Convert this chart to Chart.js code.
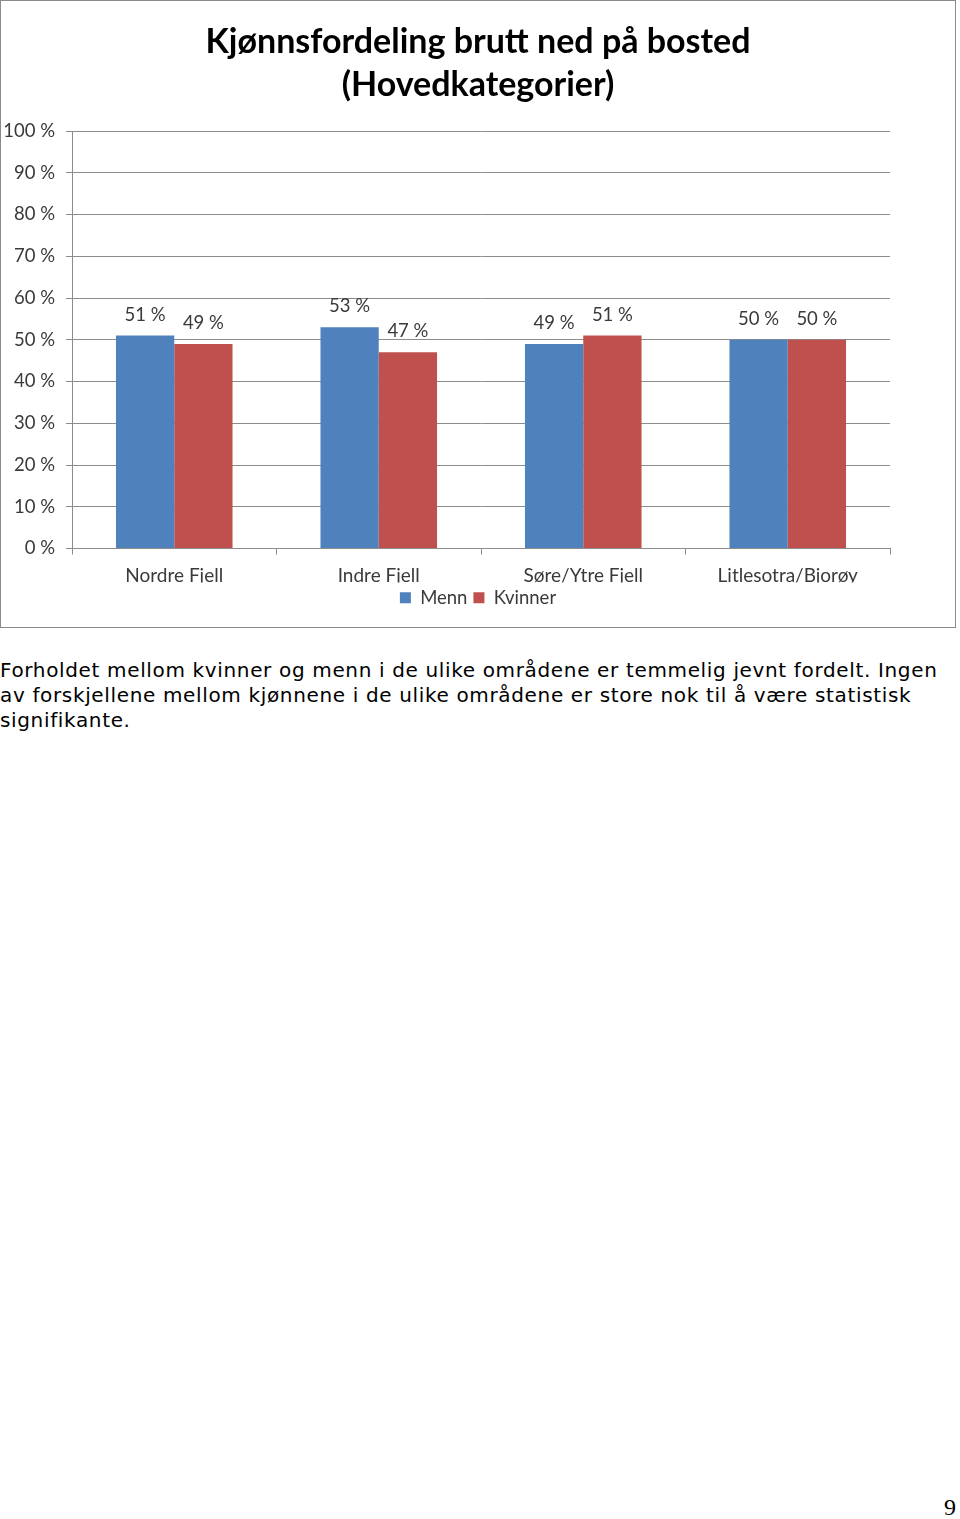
<!DOCTYPE html>
<html>
<head>
<meta charset="utf-8">
<script src="https://cdn.jsdelivr.net/npm/chart.js@4/dist/chart.umd.min.js"></script>
<style>
  body { margin: 0; background: #fff; }
  #box { position: absolute; left: 0; top: 0; width: 956px; height: 628px; box-sizing: border-box; border: 1px solid #8a8a8a; }
  #text { position: absolute; left: 0; top: 658px; font-family: "DejaVu Sans", Verdana, sans-serif; font-size: 20px; letter-spacing: 0.65px; line-height: 25px; color: #000; white-space: nowrap; }
  #page { position: absolute; left: 944px; top: 1494px; font-family: "Liberation Serif", serif; font-size: 24px; }
</style>
</head>
<body>
<div id="box"><canvas id="myChart" width="954" height="626"></canvas></div>
<div id="text">Forholdet mellom kvinner og menn i de ulike områdene er temmelig jevnt fordelt. Ingen<br>av forskjellene mellom kjønnene i de ulike områdene er store nok til å være statistisk<br>signifikante.</div>
<div id="page">9</div>
<script>
let places = ["Nordre Fjell", "Indre Fjell", "Søre/Ytre Fjell", "Litlesotra/Bjorøy"];
let menn = [51, 53, 49, 50];
let kvinner = [49, 47, 51, 50];
let yTicks = [0, 10, 20, 30, 40, 50, 60, 70, 80, 90, 100];

let gridColor = "#8c8c8c";
let textColor = "#3a3a3a";

// labels over each bar
const barLabels = {
  id: "barLabels",
  afterDatasetsDraw(chart) {
    const ctx = chart.ctx;
    ctx.save();
    ctx.font = "18.5px Lato";
    ctx.fillStyle = textColor;
    ctx.textAlign = "center";
    ctx.textBaseline = "middle";
    chart.data.datasets.forEach((ds, i) => {
      chart.getDatasetMeta(i).data.forEach((bar, j) => {
        ctx.fillText(ds.data[j] + " %", bar.x, bar.y - 21);
      });
    });
    ctx.restore();
  }
};

let ctx = document.getElementById("myChart").getContext("2d");

const myChart = new Chart(ctx, {
  type: "bar",
  data: {
    labels: places,
    datasets: [
      { label: "Menn", data: menn, backgroundColor: "#4f81bd" },
      { label: "Kvinner", data: kvinner, backgroundColor: "#c0504d" }
    ]
  },
  options: {
    responsive: false,
    animation: false,
    layout: { padding: { left: 0, right: 0, top: 0, bottom: 10 } },
    datasets: { bar: { barPercentage: 1, categoryPercentage: 0.57 } },
    scales: {
      x: {
        afterFit: (scale) => { scale.height = 34; },
        grid: { display: true, drawOnChartArea: false, tickLength: 6, color: gridColor, offset: true },
        border: { color: gridColor },
        ticks: { color: textColor, font: { family: "Lato", size: 19 }, padding: 10 }
      },
      y: {
        min: 0,
        max: 100,
        afterBuildTicks: (scale) => { scale.ticks = yTicks.map(v => ({ value: v })); },
        afterFit: (scale) => { scale.width = 71; },
        grid: { color: gridColor, tickLength: 6 },
        border: { color: gridColor },
        ticks: { color: textColor, font: { family: "Lato", size: 18.5 }, padding: 11, callback: (v) => v + " %" }
      },
      spacer: {
        type: "linear",
        position: "right",
        afterFit: (scale) => { scale.width = 65; },
        grid: { display: false },
        border: { display: false },
        ticks: { display: false }
      }
    },
    plugins: {
      title: {
        display: true,
        text: ["Kjønnsfordeling brutt ned på bosted", "(Hovedkategorier)"],
        color: "#000",
        font: { family: "Lato", size: 34, weight: "bold", lineHeight: 1.265 },
        padding: { top: 20, bottom: 24 }
      },
      legend: {
        position: "bottom",
        labels: { color: textColor, font: { family: "Lato", size: 18.5 }, boxWidth: 11, boxHeight: 11, padding: 6 }
      },
      tooltip: { enabled: false }
    }
  },
  plugins: [barLabels]
});
</script>
</body>
</html>
